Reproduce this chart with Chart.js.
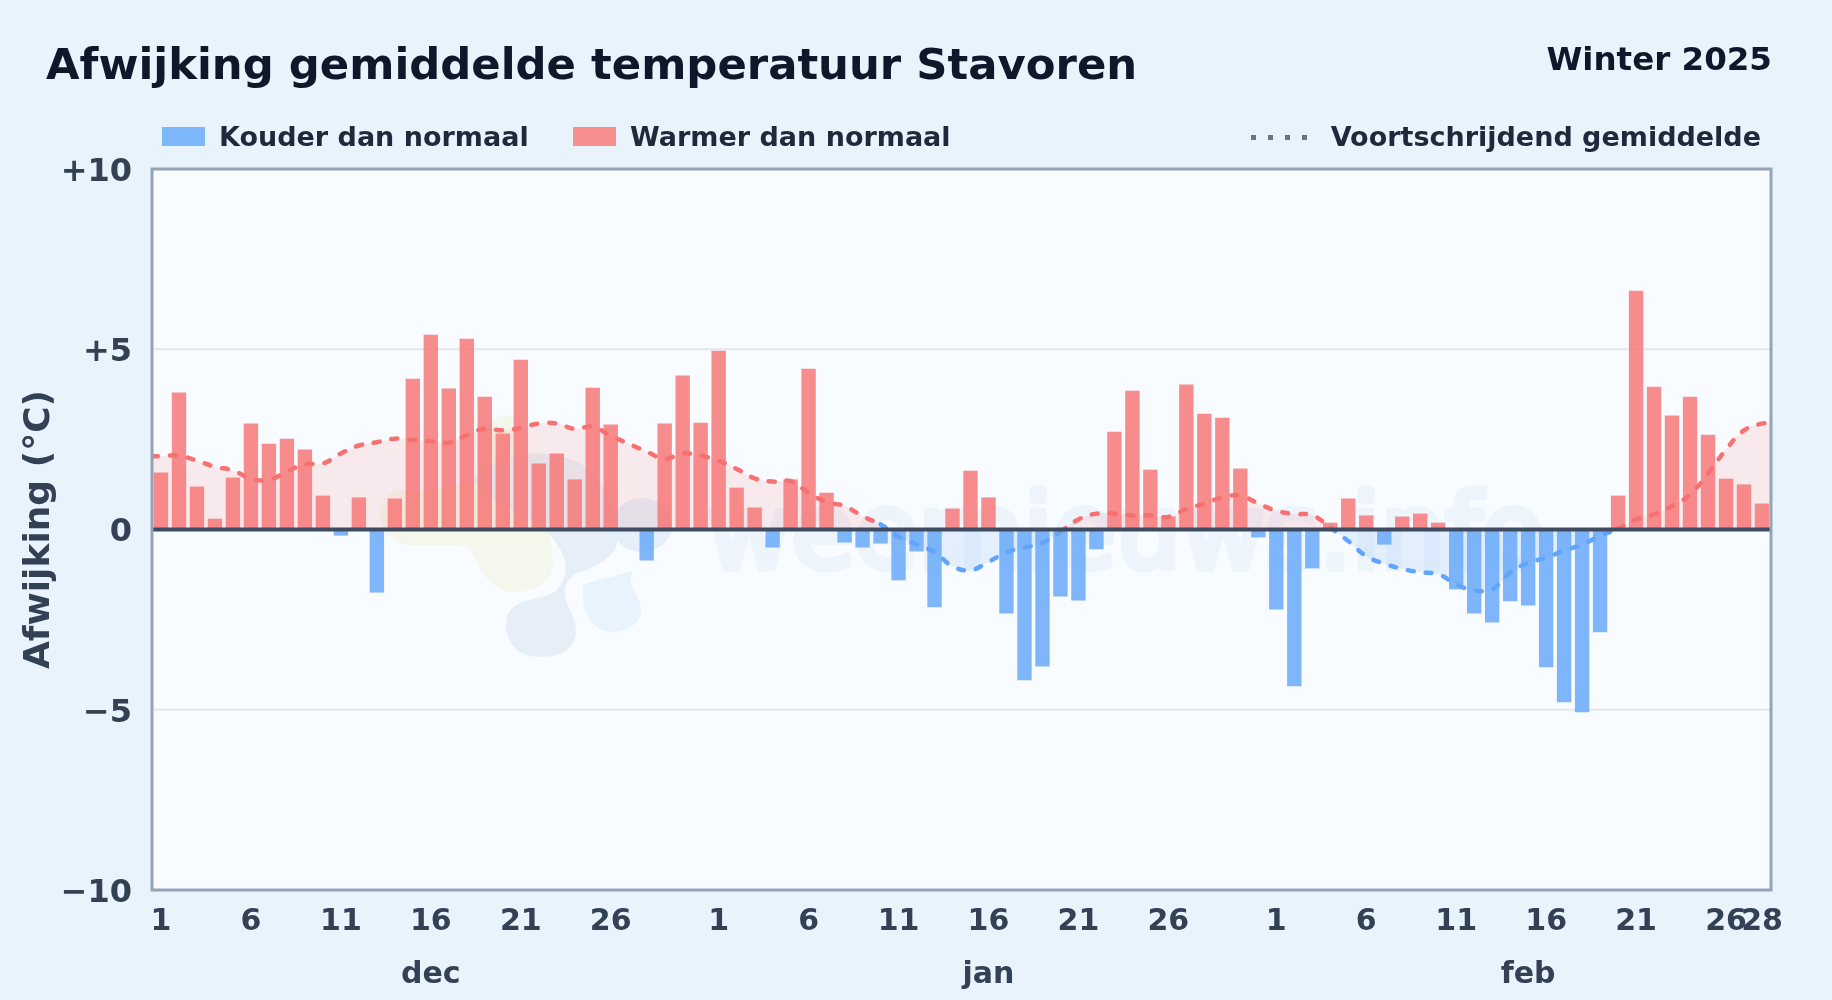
<!DOCTYPE html>
<html lang="en">
<head>
  <meta charset="UTF-8" />
  <title>Afwijking gemiddelde temperatuur Stavoren</title>
  <script src="https://cdn.jsdelivr.net/npm/chart.js"></script>
  <style>
    html, body {
      margin: 0;
      width: 1832px;
      height: 1000px;
      overflow: hidden;
      background: #e8f3fc;
      font-family: "DejaVu Sans", sans-serif;
      font-weight: bold;
    }
    #chartBox { position: absolute; left: 0; top: 0; width: 1832px; height: 1000px; }
    .label { position: absolute; white-space: nowrap; }
    #title { left: 46px; top: 39px; font-size: 43.35px; color: #0f172a; }
    #season { right: 60px; top: 40px; font-size: 32.5px; color: #0f172a; }
    .legendText { top: 121px; font-size: 27px; color: #1e293b; }
    .swatch { position: absolute; top: 127px; width: 43px; height: 19px; }
    #dots {
      position: absolute; left: 1251px; top: 135px; width: 58px; height: 5px;
      background: repeating-linear-gradient(90deg, #64748b 0 5px, transparent 5px 17px);
    }
  </style>
</head>
<body>
  <div id="chartBox"><canvas id="tempChart"></canvas></div>
  <div class="label" id="title">Afwijking gemiddelde temperatuur Stavoren</div>
  <div class="label" id="season">Winter 2025</div>
  <div class="swatch" style="left:162px;background:#7fb7fb"></div>
  <div class="label legendText" style="left:219px">Kouder dan normaal</div>
  <div class="swatch" style="left:573px;background:#f78f8f"></div>
  <div class="label legendText" style="left:630px">Warmer dan normaal</div>
  <div id="dots"></div>
  <div class="label legendText" style="right:71px">Voortschrijdend gemiddelde</div>

  <script>
    // dec, jan, feb: days per month and where the month name sits
    const monthLengths = [31, 31, 28];
    const monthNames = ["dec", "jan", "feb"];
    const monthNameDay = [16, 16, 15];

    // daily deviation from normal (°C)
    const deviation = [
      1.58, 3.80, 1.19, 0.30, 1.44, 2.94, 2.38, 2.52, 2.22, 0.94,
      -0.17, 0.89, -1.75, 0.86, 4.18, 5.40, 3.91, 5.29, 3.68, 2.66,
      4.71, 1.83, 2.11, 1.39, 3.93, 2.91, 0, -0.86, 2.94, 4.27, 2.96,
      4.96, 1.16, 0.61, -0.50, 1.39, 4.46, 1.02, -0.36, -0.50, -0.39,
      -1.41, -0.61, -2.16, 0.58, 1.63, 0.89, -2.33, -4.18, -3.80, -1.86,
      -1.97, -0.55, 2.71, 3.85, 1.66, 0.36, 4.02, 3.21, 3.10, 1.69, -0.22,
      -2.22, -4.35, -1.08, 0.19, 0.86, 0.39, -0.42, 0.36, 0.44, 0.19,
      -1.66, -2.33, -2.58, -1.99, -2.11, -3.82, -4.79, -5.07, -2.85, 0.94,
      6.62, 3.96, 3.16, 3.68, 2.63, 1.41, 1.25, 0.72
    ];

    // moving average
    const movingAvg = [
      2.03, 2.05, 1.91, 1.74, 1.64, 1.41, 1.38, 1.61, 1.81, 1.83,
      2.11, 2.33, 2.42, 2.52, 2.48, 2.45, 2.41, 2.62, 2.80, 2.75,
      2.82, 2.94, 2.94, 2.79, 2.85, 2.60, 2.38, 2.16, 1.96, 2.11, 2.05,
      1.91, 1.68, 1.42, 1.33, 1.34, 1.02, 0.76, 0.65, 0.37, 0.14,
      -0.20, -0.42, -0.63, -1.02, -1.13, -0.90, -0.63, -0.50, -0.37, -0.06,
      0.28, 0.44, 0.44, 0.39, 0.39, 0.35, 0.57, 0.72, 0.89, 0.94, 0.72,
      0.52, 0.43, 0.40, 0.05, -0.32, -0.74, -0.95, -1.09, -1.19, -1.24,
      -1.52, -1.69, -1.66, -1.20, -0.92, -0.79, -0.58, -0.42, -0.17, 0.02,
      0.28, 0.42, 0.65, 0.97, 1.55, 2.22, 2.75, 2.94
    ];

    const yTicks = [10, 5, 0, -5, -10];
    const lastDay = deviation.length - 1;

    // tick labels: every 5th day up to 26, plus feb 28; month name on a second line
    const dayLabels = [];
    monthLengths.forEach((len, m) => {
      for (let d = 1; d <= len; d++) {
        const dayText = ((d - 1) % 5 === 0 && d <= 26) || (m === 2 && d === 28) ? String(d) : "";
        dayLabels.push(d === monthNameDay[m] ? [dayText, monthNames[m]] : dayText);
      }
    });

    // line reaches the plot edges, so it lives on its own linear x axis
    const linePoints = [{ x: -0.5, y: movingAvg[0] }]
      .concat(movingAvg.map((v, i) => ({ x: i, y: v })))
      .concat([{ x: lastDay + 0.5, y: movingAvg[lastDay] }]);

    function shape(ctx, color, draw) {
      ctx.fillStyle = color;
      ctx.beginPath();
      draw();
      ctx.closePath();
      ctx.fill();
    }

    // faint site logo and name behind the data
    function drawWatermark(ctx) {
      ctx.save();
      shape(ctx, "#f3f7ec", () => {
        ctx.moveTo(380, 513);
        ctx.bezierCurveTo(380, 497, 393, 488, 410, 490);
        ctx.bezierCurveTo(440, 490, 470, 485, 480, 470);
        ctx.bezierCurveTo(480, 440, 490, 417, 503, 415);
        ctx.bezierCurveTo(520, 413, 520, 440, 525, 470);
        ctx.bezierCurveTo(540, 510, 553, 540, 553, 563);
        ctx.bezierCurveTo(553, 585, 530, 592, 515, 592);
        ctx.bezierCurveTo(490, 592, 480, 570, 470, 547);
        ctx.bezierCurveTo(450, 543, 430, 547, 410, 545);
        ctx.bezierCurveTo(390, 543, 380, 530, 380, 513);
      });
      shape(ctx, "#e6eff8", () => {
        ctx.moveTo(473, 480);
        ctx.bezierCurveTo(500, 450, 540, 450, 563, 457);
        ctx.bezierCurveTo(590, 462, 615, 490, 618, 533);
        ctx.bezierCurveTo(620, 560, 590, 568, 580, 572);
        ctx.bezierCurveTo(565, 578, 560, 590, 570, 610);
        ctx.bezierCurveTo(585, 640, 570, 657, 540, 657);
        ctx.bezierCurveTo(515, 657, 505, 640, 506, 622);
        ctx.bezierCurveTo(507, 605, 525, 600, 543, 597);
        ctx.bezierCurveTo(570, 590, 570, 560, 557, 545);
        ctx.bezierCurveTo(545, 520, 500, 510, 473, 480);
      });
      shape(ctx, "#e8f3fd", () => {
        ctx.moveTo(583, 585);
        ctx.bezierCurveTo(600, 578, 625, 575, 633, 570);
        ctx.bezierCurveTo(625, 585, 640, 595, 641, 608);
        ctx.bezierCurveTo(642, 625, 625, 632, 613, 632);
        ctx.bezierCurveTo(595, 632, 580, 615, 583, 585);
      });
      shape(ctx, "#e4eff9", () => ctx.ellipse(642, 525, 30, 27, 0, 0, Math.PI * 2));
      ctx.fillStyle = "#edf4fc";
      ctx.strokeStyle = "#edf4fc";
      ctx.lineWidth = 7;
      ctx.lineJoin = "round";
      ctx.font = "103px 'DejaVu Sans'";
      ctx.fillText("weernieuws.info", 707, 568);
      ctx.strokeText("weernieuws.info", 707, 568);
      ctx.restore();
    }

    const plotDecor = {
      id: "plotDecor",
      beforeDatasetsDraw(chart) {
        const { ctx, chartArea: a, scales } = chart;
        ctx.save();
        ctx.fillStyle = "#f8fbff";
        ctx.fillRect(a.left, a.top, a.width, a.height);
        drawWatermark(ctx);
        // horizontal grid lines at +5 / -5
        ctx.strokeStyle = "#e2e8f0";
        ctx.lineWidth = 2;
        [5, -5].forEach(v => {
          const y = scales.y.getPixelForValue(v);
          ctx.beginPath();
          ctx.moveTo(a.left, y);
          ctx.lineTo(a.right, y);
          ctx.stroke();
        });
        ctx.restore();
      },
      afterDatasetsDraw(chart) {
        const { ctx, chartArea: a, scales } = chart;
        ctx.save();
        ctx.strokeStyle = "#3f4b61";
        ctx.lineWidth = 4;
        const y0 = scales.y.getPixelForValue(0);
        ctx.beginPath();
        ctx.moveTo(a.left, y0);
        ctx.lineTo(a.right, y0);
        ctx.stroke();
        ctx.strokeStyle = "#94a3b8";
        ctx.lineWidth = 3;
        ctx.strokeRect(a.left, a.top, a.width, a.height);
        ctx.restore();
      }
    };

    new Chart(document.getElementById("tempChart"), {
      type: "bar",
      data: {
        labels: dayLabels,
        datasets: [
          {
            label: "Kouder dan normaal",
            data: deviation.map(v => (v < 0 ? v : null)),
            backgroundColor: "rgba(96, 165, 250, 0.8)",
            barPercentage: 0.8,
            categoryPercentage: 1,
            grouped: false,
            order: 1
          },
          {
            label: "Warmer dan normaal",
            data: deviation.map(v => (v >= 0 ? v : null)),
            backgroundColor: "rgba(246, 113, 113, 0.8)",
            barPercentage: 0.8,
            categoryPercentage: 1,
            grouped: false,
            order: 1
          },
          {
            type: "line",
            label: "Voortschrijdend gemiddelde",
            data: linePoints,
            xAxisID: "xLine",
            order: 2,
            tension: 0.4,
            pointRadius: 0,
            borderWidth: 4.5,
            borderDash: [6, 12],
            borderCapStyle: "round",
            borderColor: "#f87171",
            segment: {
              borderColor: c => (c.p0.parsed.y + c.p1.parsed.y < 0 ? "#60a5fa" : "#f87171")
            },
            fill: {
              target: { value: 0 },
              above: "rgba(248, 113, 113, 0.13)",
              below: "rgba(96, 165, 250, 0.13)"
            }
          }
        ]
      },
      options: {
        responsive: true,
        maintainAspectRatio: false,
        animation: false,
        layout: { padding: { left: 18, top: 169, right: 61, bottom: 0 } },
        plugins: { legend: { display: false }, tooltip: { enabled: false } },
        scales: {
          x: {
            grid: { display: false, drawTicks: false },
            border: { display: false },
            afterFit: s => { s.height = 110; },
            ticks: {
              autoSkip: false,
              maxRotation: 0,
              minRotation: 0,
              padding: 6,
              color: "#334155",
              font: { size: 30, weight: "bold", family: "'DejaVu Sans'", lineHeight: 1.77 }
            }
          },
          xLine: {
            type: "linear",
            display: false,
            offset: false,
            min: -0.5,
            max: lastDay + 0.5
          },
          y: {
            min: -10,
            max: 10,
            afterFit: s => { s.width = 134; },
            afterBuildTicks: s => { s.ticks = yTicks.map(v => ({ value: v })); },
            grid: { display: false, drawTicks: false },
            border: { display: false },
            title: {
              display: true,
              text: "Afwijking (°C)",
              color: "#334155",
              padding: 0,
              font: { size: 36, weight: "bold", family: "'DejaVu Sans'" }
            },
            ticks: {
              padding: 20,
              labelOffset: 3.5,
              color: "#334155",
              font: { size: 32, weight: "bold", family: "'DejaVu Sans'" },
              callback: v => (v > 0 ? "+" + v : v < 0 ? "\u2212" + Math.abs(v) : "0")
            }
          }
        }
      },
      plugins: [plotDecor]
    });
  </script>
</body>
</html>
